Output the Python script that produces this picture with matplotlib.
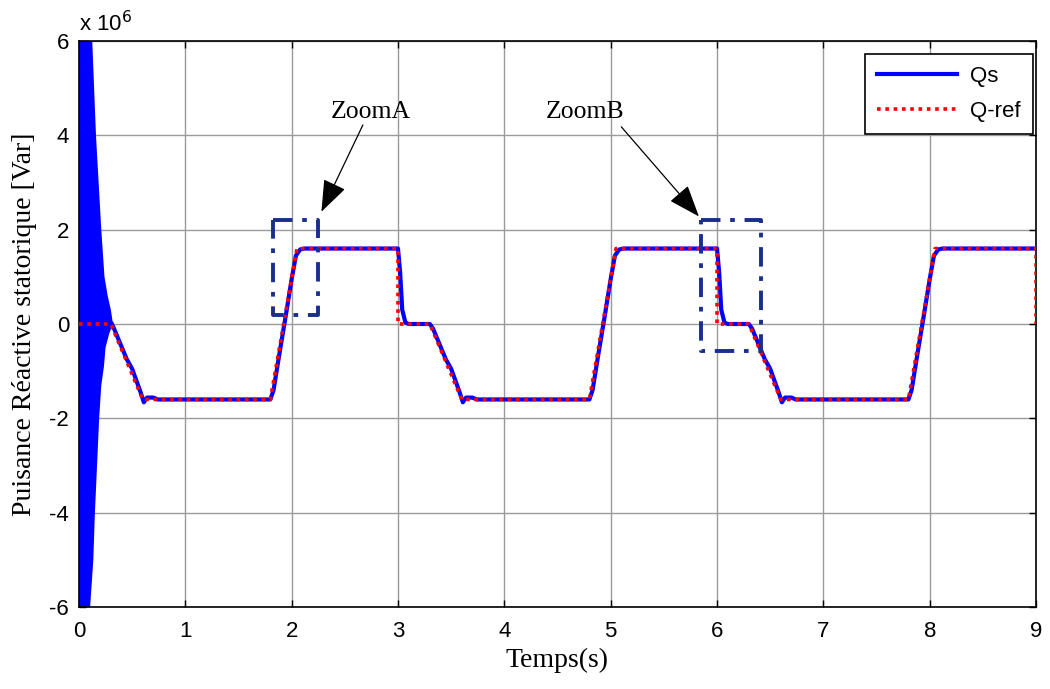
import matplotlib
matplotlib.use("Agg")
import matplotlib.pyplot as plt
from matplotlib.ticker import FuncFormatter

# ---- data (Var) -------------------------------------------------------------
# reference reactive power Q-ref
t_ref = [0, 0.30, 0.60, 1.80, 2.05, 3.00, 3.00, 3.30, 3.60, 4.80, 5.05,
         6.00, 6.00, 6.30, 6.60, 7.80, 8.05, 9.00, 9.00]
q_ref = [0, 0, -1.6e6, -1.6e6, 1.6e6, 1.6e6, 0, 0, -1.6e6, -1.6e6, 1.6e6,
         1.6e6, 0, 0, -1.6e6, -1.6e6, 1.6e6, 1.6e6, 0]

# measured stator reactive power Qs (after the start-up transient)
t_qs = [0.31, 0.33, 0.45, 0.50, 0.58, 0.61, 0.64, 0.70, 0.74,
        1.80, 1.83, 1.88, 1.95, 2.00, 2.04, 2.08, 2.12,
        3.00, 3.02, 3.04, 3.07, 3.10,
        3.30, 3.33, 3.45, 3.50, 3.58, 3.61, 3.64, 3.70, 3.74,
        4.80, 4.83, 4.88, 4.95, 5.00, 5.04, 5.08, 5.12,
        6.00, 6.02, 6.04, 6.07, 6.10,
        6.30, 6.33, 6.45, 6.50, 6.58, 6.61, 6.64, 6.70, 6.74,
        7.80, 7.83, 7.88, 7.95, 8.00, 8.04, 8.08, 8.12, 9.00]
q_qs = [0, -0.10e6, -0.75e6, -0.95e6, -1.45e6, -1.66e6, -1.56e6, -1.56e6, -1.6e6,
        -1.6e6, -1.4e6, -0.7e6, 0.25e6, 0.95e6, 1.45e6, 1.58e6, 1.6e6,
        1.6e6, 1.1e6, 0.3e6, 0.03e6, 0,
        0, -0.10e6, -0.75e6, -0.95e6, -1.45e6, -1.66e6, -1.56e6, -1.56e6, -1.6e6,
        -1.6e6, -1.4e6, -0.7e6, 0.25e6, 0.95e6, 1.45e6, 1.58e6, 1.6e6,
        1.6e6, 1.1e6, 0.3e6, 0.03e6, 0,
        0, -0.10e6, -0.75e6, -0.95e6, -1.45e6, -1.66e6, -1.56e6, -1.56e6, -1.6e6,
        -1.6e6, -1.4e6, -0.7e6, 0.25e6, 0.95e6, 1.45e6, 1.58e6, 1.6e6, 1.6e6]

# envelope of the start-up oscillation of Qs
t_env_up = [0, 0.125, 0.16, 0.21, 0.24, 0.27, 0.30, 0.32]
q_env_up = [7e6, 6e6, 4e6, 2e6, 1e6, 0.6e6, 0.3e6, 0]
t_env_lo = [0, 0.105, 0.135, 0.15, 0.19, 0.21, 0.235, 0.25, 0.285, 0.32]
q_env_lo = [-7e6, -6e6, -5e6, -4e6, -2e6, -1.3e6, -0.9e6, -0.5e6, -0.2e6, 0]

# zoom boxes (t0, t1, q0, q1) and their labels
zoom_names = ["ZoomA", "ZoomB"]
zoom_boxes = [(1.82, 2.245, 0.2e6, 2.21e6), (5.85, 6.41, -0.58e6, 2.21e6)]
zoom_text_xy = [(2.74, 4.5e6), (4.76, 4.5e6)]
zoom_arrow_start = [(2.67, 4.22e6), (5.10, 4.18e6)]
zoom_arrow_tip = [(2.28, 2.38e6), (5.83, 2.28e6)]

BLUE = "#0000ff"
RED = "#ff0000"
NAVY = "#1a2e8c"
SANS = ["Liberation Sans", "DejaVu Sans"]
SERIF = ["Liberation Serif", "DejaVu Serif"]

fig = plt.figure(figsize=(10.5, 6.89), dpi=100)
ax = fig.add_axes([0.0752, 0.119, 0.9115, 0.8215])

ax.grid(True, color="#9a9a9a", lw=1.0)
ax.set_axisbelow(True)

# start-up transient drawn as a filled band
ax.fill(t_env_up + t_env_lo[::-1], q_env_up + q_env_lo[::-1],
        color=BLUE, lw=0, zorder=2)
ax.plot(t_qs, q_qs, color=BLUE, lw=3.0, label="Qs", zorder=3,
        solid_joinstyle="round")
ax.plot(t_ref, q_ref, color=RED, lw=2.6, ls=(0, (1, 1.3)), label="Q-ref",
        zorder=4)

for name, (x0, x1, y0, y1), txy, s, tip in zip(zoom_names, zoom_boxes,
                                               zoom_text_xy, zoom_arrow_start,
                                               zoom_arrow_tip):
    ax.plot([x0, x1, x1, x0, x0], [y1, y1, y0, y0, y1], color=NAVY, lw=2.8,
            ls=(0, (5, 2.5, 1.2, 2.5)), zorder=5)
    ax.text(txy[0], txy[1], name, ha="center", va="center", fontsize=18.5,
            family=SERIF)
    ax.annotate("", xy=tip, xytext=s,
                arrowprops=dict(arrowstyle="-|>,head_length=2.0,head_width=0.75",
                                color="black", lw=0.9, shrinkA=0, shrinkB=0),
                zorder=6)

ax.set_xlim(0, 9)
ax.set_ylim(-6e6, 6e6)
ax.set_xticks(range(0, 10))
ax.set_yticks([-6e6, -4e6, -2e6, 0, 2e6, 4e6, 6e6])
ax.yaxis.set_major_formatter(FuncFormatter(lambda v, p: f"{v / 1e6:g}"))
ax.tick_params(direction="in", top=True, right=True, length=5, width=1,
               labelsize=16)
ax.tick_params(axis="x", pad=10)
ax.tick_params(axis="y", pad=7)
for lab in ax.get_xticklabels() + ax.get_yticklabels():
    lab.set_family(SANS)
for sp in ax.spines.values():
    sp.set_linewidth(1.2)

ax.text(0.0, 1.008, r"x 10$^{6}$", transform=ax.transAxes, ha="left",
        va="bottom", fontsize=16, family=SANS)

ax.set_xlabel("Temps(s)", fontsize=20, family=SERIF, labelpad=4)
ax.set_ylabel("Puisance Réactive statorique [Var]", fontsize=20,
              family=SERIF, labelpad=9)

leg = ax.legend(loc="upper right", bbox_to_anchor=(0.997, 0.977),
                borderaxespad=0, prop={"family": SANS, "size": 16},
                handlelength=3.6, handletextpad=0.6,
                fancybox=False, framealpha=1, edgecolor="black",
                borderpad=0.55, labelspacing=0.6)
leg.get_frame().set_linewidth(1.2)

fig.savefig("out.png", dpi=100)
